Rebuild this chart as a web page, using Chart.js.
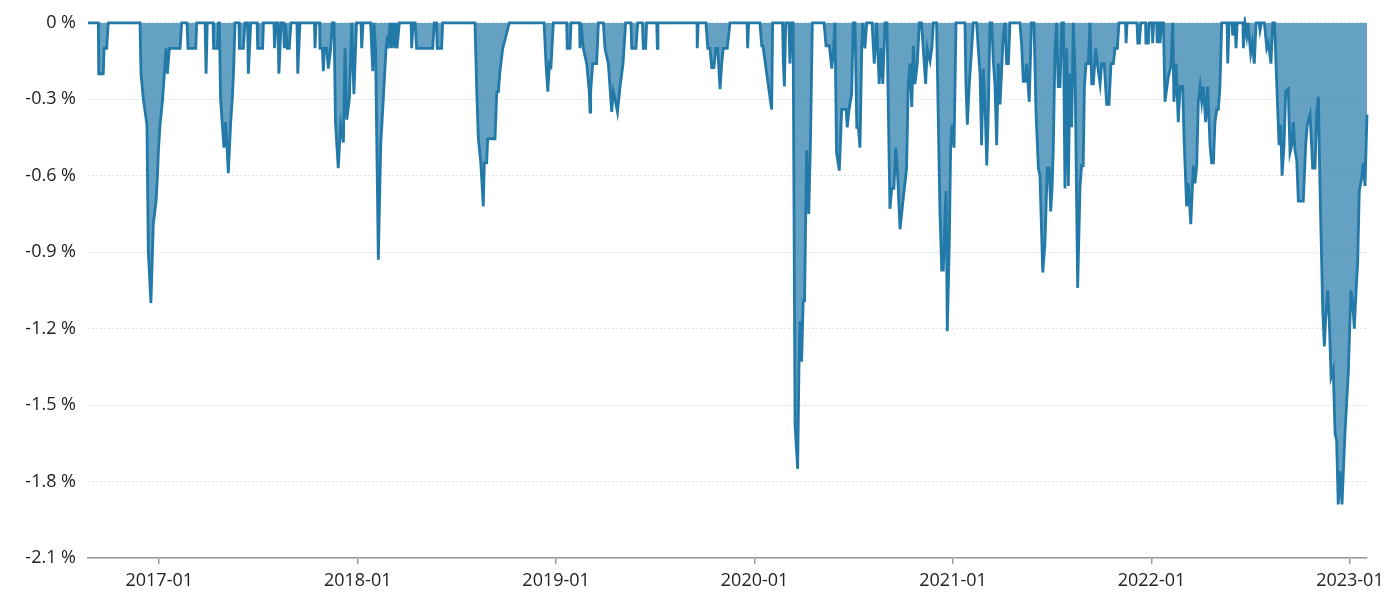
<!DOCTYPE html>
<html>
<head>
<meta charset="utf-8">
<script src="https://cdn.jsdelivr.net/npm/chart.js@4.4.1/dist/chart.umd.min.js"></script>
<style>
  html, body { margin: 0; padding: 0; background: #ffffff; }
  #wrap { width: 1393px; height: 602px; position: relative; }
</style>
</head>
<body>
<div id="wrap"><canvas id="c" width="1393" height="602"></canvas></div>
<script>
// Time in decimal years
const years = [
2016.641,2016.693,2016.695,2016.718,2016.722,2016.735,2016.743,2016.903,2016.908,2016.920,
2016.938,2016.945,2016.958,2016.970,2016.984,2016.991,2016.996,2017.004,2017.017,2017.034,
2017.041,2017.051,2017.105,2017.113,2017.140,2017.145,2017.184,2017.189,2017.231,2017.236,
2017.242,2017.271,2017.274,2017.293,2017.299,2017.303,2017.309,2017.326,2017.335,2017.348,
2017.360,2017.368,2017.374,2017.382,2017.402,2017.404,2017.424,2017.432,2017.445,2017.449,
2017.461,2017.493,2017.496,2017.521,2017.525,2017.578,2017.581,2017.588,2017.598,2017.603,
2017.614,2017.626,2017.630,2017.636,2017.645,2017.655,2017.664,2017.694,2017.698,2017.709,
2017.782,2017.785,2017.790,2017.808,2017.810,2017.822,2017.827,2017.833,2017.844,2017.852,
2017.864,2017.872,2017.881,2017.888,2017.902,2017.914,2017.928,2017.936,2017.945,2017.958,
2017.970,2017.981,2017.994,2018.017,2018.020,2018.027,2018.065,2018.076,2018.082,2018.090,
2018.104,2018.116,2018.129,2018.143,2018.150,2018.154,2018.163,2018.170,2018.178,2018.186,
2018.193,2018.198,2018.210,2018.269,2018.272,2018.279,2018.289,2018.297,2018.378,2018.386,
2018.397,2018.401,2018.423,2018.428,2018.591,2018.600,2018.608,2018.620,2018.633,2018.638,
2018.650,2018.655,2018.692,2018.701,2018.709,2018.717,2018.731,2018.751,2018.764,2018.939,
2018.949,2018.958,2018.966,2018.974,2018.986,2019.053,2019.056,2019.070,2019.075,2019.118,
2019.120,2019.125,2019.137,2019.154,2019.167,2019.171,2019.174,2019.184,2019.204,2019.213,
2019.238,2019.246,2019.263,2019.280,2019.288,2019.297,2019.309,2019.322,2019.337,2019.350,
2019.377,2019.381,2019.402,2019.411,2019.435,2019.439,2019.451,2019.456,2019.507,2019.510,
2019.513,2019.710,2019.711,2019.716,2019.755,2019.764,2019.775,2019.784,2019.795,2019.804,
2019.814,2019.826,2019.834,2019.842,2019.862,2019.876,2019.962,2019.965,2019.970,2020.027,
2020.036,2020.042,2020.086,2020.091,2020.141,2020.145,2020.150,2020.157,2020.173,2020.178,
2020.187,2020.194,2020.204,2020.217,2020.224,2020.229,2020.237,2020.245,2020.252,2020.262,
2020.273,2020.282,2020.291,2020.350,2020.360,2020.377,2020.389,2020.398,2020.405,2020.413,
2020.427,2020.439,2020.461,2020.467,2020.476,2020.489,2020.497,2020.506,2020.515,2020.523,
2020.531,2020.540,2020.545,2020.556,2020.565,2020.592,2020.603,2020.615,2020.628,2020.637,
2020.646,2020.657,2020.667,2020.682,2020.691,2020.702,2020.711,2020.719,2020.733,2020.749,
2020.766,2020.774,2020.783,2020.792,2020.800,2020.808,2020.820,2020.830,2020.841,2020.850,
2020.862,2020.870,2020.884,2020.893,2020.901,2020.917,2020.934,2020.943,2020.951,2020.960,
2020.965,2020.971,2020.981,2020.988,2020.995,2021.005,2021.015,2021.060,2021.065,2021.072,
2021.082,2021.094,2021.102,2021.119,2021.127,2021.136,2021.144,2021.152,2021.161,2021.170,
2021.178,2021.186,2021.195,2021.203,2021.211,2021.220,2021.228,2021.237,2021.253,2021.262,
2021.270,2021.279,2021.287,2021.337,2021.346,2021.354,2021.363,2021.371,2021.384,2021.395,
2021.408,2021.418,2021.430,2021.438,2021.452,2021.463,2021.475,2021.485,2021.492,2021.499,
2021.505,2021.514,2021.522,2021.530,2021.539,2021.548,2021.556,2021.564,2021.573,2021.581,
2021.589,2021.598,2021.606,2021.615,2021.628,2021.640,2021.648,2021.656,2021.662,2021.670,
2021.682,2021.690,2021.699,2021.707,2021.719,2021.727,2021.741,2021.749,2021.762,2021.774,
2021.786,2021.796,2021.808,2021.816,2021.828,2021.836,2021.869,2021.872,2021.877,2021.927,
2021.931,2021.939,2021.946,2021.970,2021.972,2021.984,2021.989,2022.003,2022.006,2022.011,
2022.026,2022.029,2022.035,2022.040,2022.043,2022.050,2022.060,2022.068,2022.085,2022.098,
2022.107,2022.113,2022.124,2022.135,2022.144,2022.157,2022.164,2022.177,2022.186,2022.198,
2022.211,2022.219,2022.228,2022.236,2022.245,2022.253,2022.261,2022.273,2022.283,2022.295,
2022.303,2022.312,2022.320,2022.329,2022.337,2022.345,2022.354,2022.381,2022.384,2022.391,
2022.406,2022.409,2022.413,2022.421,2022.426,2022.432,2022.461,2022.463,2022.471,2022.480,
2022.486,2022.500,2022.508,2022.518,2022.527,2022.542,2022.547,2022.554,2022.569,2022.581,
2022.589,2022.602,2022.611,2022.620,2022.627,2022.634,2022.643,2022.651,2022.658,2022.668,
2022.676,2022.689,2022.698,2022.707,2022.715,2022.723,2022.732,2022.740,2022.765,2022.777,
2022.785,2022.799,2022.807,2022.812,2022.824,2022.833,2022.841,2022.849,2022.863,2022.871,
2022.879,2022.888,2022.896,2022.905,2022.916,2022.925,2022.933,2022.941,2022.950,2022.960,
2022.975,2022.992,2023.005,2023.014,2023.022,2023.031,2023.039,2023.047,2023.059,2023.067,
2023.076,2023.086
];

// Drawdown in percent
const drawdown = [
0,0,-0.2,-0.2,-0.1,-0.1,0,0,-0.2,-0.3,
-0.4,-0.9,-1.1,-0.79,-0.7,-0.6,-0.5,-0.4,-0.3,-0.1,
-0.2,-0.1,-0.1,0,0,-0.1,-0.1,0,0,-0.2,
0,0,-0.1,-0.1,0,0,-0.3,-0.49,-0.39,-0.59,
-0.39,-0.3,-0.2,0,0,-0.1,-0.1,0,0,-0.2,
0,0,-0.1,-0.1,0,0,-0.1,0,0,-0.2,
0,0,-0.1,0,-0.1,-0.1,0,0,-0.2,0,
0,-0.1,0,0,-0.1,-0.1,-0.19,-0.1,-0.1,-0.18,
-0.1,0,0,-0.39,-0.57,-0.4,-0.47,-0.1,-0.38,-0.3,
0,-0.28,0,0,-0.1,0,0,-0.19,0,-0.1,
-0.93,-0.48,-0.3,-0.1,-0.05,-0.1,0,-0.1,0,-0.1,
0,-0.1,0,0,-0.1,0,0,-0.1,-0.1,0,
0,-0.1,-0.1,0,0,-0.27,-0.455,-0.546,-0.72,-0.55,
-0.55,-0.455,-0.455,-0.27,-0.27,-0.19,-0.1,-0.04,0,0,
-0.16,-0.27,-0.16,-0.17,0,0,-0.1,-0.1,0,0,
-0.1,0,-0.1,-0.16,-0.27,-0.35,-0.27,-0.16,-0.16,0,
0,-0.1,-0.16,-0.35,-0.27,-0.3,-0.35,-0.25,-0.16,0,
0,-0.1,-0.1,0,0,-0.1,-0.1,0,0,-0.1,
0,0,-0.1,0,0,-0.1,-0.1,-0.176,-0.176,-0.1,
-0.1,-0.26,-0.165,-0.1,-0.1,0,0,-0.1,0,0,
-0.09,-0.09,-0.34,0,0,-0.16,-0.25,0,0,-0.16,
0,0,-1.58,-1.75,-1.33,-1.17,-1.33,-1.09,-1.09,-0.5,
-0.75,-0.45,0,0,-0.09,-0.09,-0.18,-0.1,0,-0.51,
-0.58,-0.34,-0.34,-0.41,-0.34,-0.28,0,0,-0.41,-0.41,
-0.49,-0.1,0,-0.1,0,0,-0.16,0,-0.24,-0.1,
-0.24,0,0,-0.73,-0.65,-0.65,-0.49,-0.57,-0.81,-0.69,
-0.57,-0.25,-0.16,-0.33,-0.09,-0.24,-0.16,0,0,-0.1,
-0.24,-0.1,-0.15,-0.1,0,0,-0.74,-0.97,-0.97,-0.74,
-0.66,-1.21,-0.87,-0.49,-0.4,-0.49,0,0,-0.24,-0.4,
-0.24,-0.1,0,0,-0.1,-0.2,-0.48,-0.18,-0.32,-0.56,
-0.34,0,0,-0.15,-0.24,-0.48,-0.16,-0.32,-0.05,0,
-0.16,-0.16,0,0,-0.09,-0.23,-0.23,-0.16,-0.31,0,
0,-0.35,-0.57,-0.6,-0.98,-0.87,-0.57,-0.57,-0.74,-0.65,
-0.5,-0.1,0,-0.25,-0.25,0,0,-0.65,-0.1,-0.64,
-0.2,-0.41,0,-0.2,-1.04,-0.64,-0.56,-0.56,-0.25,-0.16,
-0.16,0,-0.24,-0.24,-0.1,-0.16,-0.24,-0.16,-0.16,-0.32,
-0.32,-0.16,-0.16,-0.1,-0.1,0,0,-0.08,0,0,
-0.08,-0.08,0,0,-0.08,-0.08,0,0,-0.08,0,
0,-0.08,0,0,-0.08,0,0,-0.31,-0.21,-0.17,
0,-0.31,-0.16,-0.39,-0.25,-0.25,-0.45,-0.72,-0.63,-0.79,
-0.56,-0.63,-0.56,-0.31,-0.25,-0.31,-0.25,-0.39,-0.25,-0.48,
-0.55,-0.55,-0.39,-0.34,-0.34,-0.25,0,0,-0.16,0,
0,-0.05,0,0,-0.1,0,0,-0.1,0,-0.05,
0,-0.12,-0.08,-0.16,0,0,-0.03,0,0,-0.1,
-0.08,-0.16,0,0,-0.15,-0.3,-0.48,-0.4,-0.6,-0.48,
-0.27,-0.26,-0.51,-0.48,-0.39,-0.5,-0.54,-0.7,-0.7,-0.48,
-0.4,-0.36,-0.48,-0.57,-0.57,-0.35,-0.29,-0.64,-1.13,-1.27,
-1.14,-1.05,-1.17,-1.39,-1.36,-1.61,-1.64,-1.89,-1.76,-1.89,
-1.61,-1.37,-1.05,-1.1,-1.2,-1.05,-0.94,-0.66,-0.61,-0.55,
-0.64,-0.36
];

const xTickLabels = ['2017-01','2018-01','2019-01','2020-01','2021-01','2022-01','2023-01'];
const yTickValues = [0,-0.3,-0.6,-0.9,-1.2,-1.5,-1.8,-2.1];

const labelToYear = s => parseInt(s.slice(0,4),10) + (parseInt(s.slice(5,7),10) - 1) / 12;
const points = years.map((x, i) => ({ x: x, y: drawdown[i] }));

const FONT = { family: "'Open Sans', 'Noto Sans', sans-serif", size: 18 };
const TEXT = '#222222';

new Chart(document.getElementById('c'), {
  type: 'line',
  data: {
    datasets: [{
      data: points,
      borderColor: '#2379a8',
      backgroundColor: 'rgba(35,121,168,0.7)',
      borderWidth: 2.8,
      pointRadius: 0,
      pointHoverRadius: 0,
      tension: 0,
      fill: 'origin',
      clip: 6
    }]
  },
  options: {
    responsive: false,
    animation: false,
    events: [],
    layout: { padding: { top: 20, right: 26, left: 0, bottom: 0 } },
    plugins: { legend: { display: false }, tooltip: { enabled: false } },
    scales: {
      x: {
        type: 'linear',
        min: years[0],
        max: years[years.length - 1],
        afterBuildTicks: (scale) => {
          scale.ticks = xTickLabels.map(l => ({ value: labelToYear(l), label: l }));
        },
        afterFit: (scale) => { scale.height = 44; },
        ticks: {
          autoSkip: false,
          maxRotation: 0,
          color: TEXT,
          font: FONT,
          padding: 6,
          callback: (v) => {
            const i = xTickLabels.findIndex(l => Math.abs(labelToYear(l) - v) < 1e-6);
            return i >= 0 ? xTickLabels[i] : '';
          }
        },
        grid: {
          drawOnChartArea: false,
          drawTicks: true,
          tickLength: 6,
          color: '#9a9a9a',
          lineWidth: 1.5
        },
        border: { display: true, color: '#9a9a9a', width: 1.5 }
      },
      y: {
        min: yTickValues[yTickValues.length - 1],
        max: yTickValues[0],
        afterBuildTicks: (scale) => {
          scale.ticks = yTickValues.map(v => ({ value: v }));
        },
        afterFit: (scale) => { scale.width = 88; },
        ticks: {
          color: TEXT,
          font: FONT,
          padding: 12,
          callback: (v) => (Math.abs(v) < 1e-9 ? '0' : (Math.round(v * 10) / 10).toFixed(1)) + ' %'
        },
        grid: {
          drawTicks: false,
          color: '#dde3ee',
          lineWidth: 1,
          borderDash: [2, 2]
        },
        border: { display: false, dash: [2, 2] }
      }
    }
  }
});
</script>
</body>
</html>
